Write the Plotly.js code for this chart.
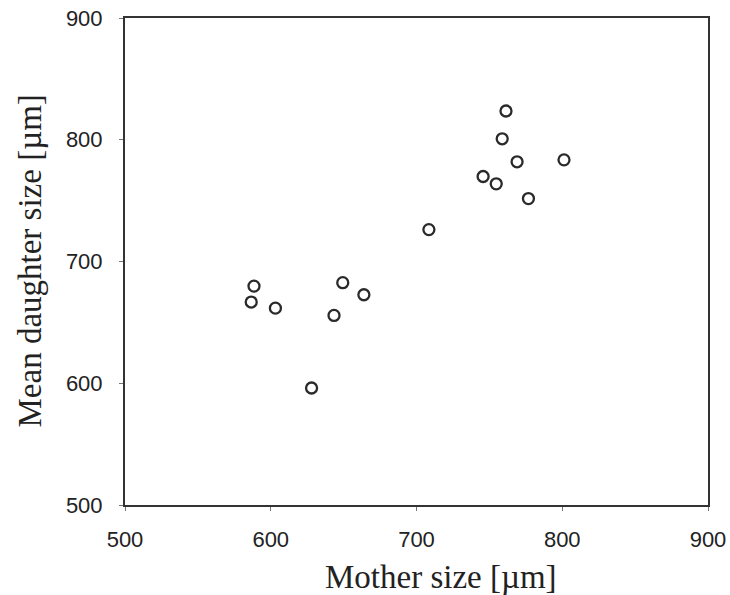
<!DOCTYPE html>
<html>
<head>
<meta charset="utf-8">
<script src="https://cdn.plot.ly/plotly-3.0.1.min.js"></script>
<style>html,body{margin:0;padding:0;background:#fff;}</style>
</head>
<body>
<div id="chart" style="width:730px;height:595px;"></div>
<script>
const motherSize = [588.5, 586.6, 603.2, 628.0, 643.4, 649.4, 663.9, 708.5, 745.7, 754.7, 758.8, 761.4, 769.0, 776.8, 801.2];
const daughterSize = [679.8, 666.7, 661.7, 596.1, 655.7, 682.6, 672.7, 726.2, 769.8, 763.8, 800.8, 823.6, 781.9, 751.7, 783.5];
const tickVals = [500, 600, 700, 800, 900];
const xTitle = 'Mother size [µm]';
const yTitle = 'Mean daughter size [µm]';

const trace = {
  x: motherSize, y: daughterSize, mode: 'markers', type: 'scatter',
  marker: {symbol: 'circle-open', size: 11, color: '#2a2a2a', line: {width: 2.3, color: '#2a2a2a'}},
  hoverinfo: 'none'
};

const titleFont = {family: 'Liberation Serif, Times New Roman, serif', size: 33, color: '#222'};

const axisCommon = {
  showgrid: false, zeroline: false, showline: true, mirror: true,
  linecolor: '#333', linewidth: 2, ticks: 'outside', ticklen: 4, tickcolor: '#777', tickwidth: 1,
  tickvals: tickVals, ticktext: tickVals.map(String),
  tickfont: {family: 'Liberation Sans, Arial, sans-serif', size: 22, color: '#222'}
};

const layout = {
  width: 730, height: 595,
  margin: {l: 125, r: 22, t: 18, b: 90},
  paper_bgcolor: '#fff', plot_bgcolor: '#fff',
  showlegend: false,
  xaxis: Object.assign({}, axisCommon, {range: [500, 900], ticklabelstandoff: 10}),
  yaxis: Object.assign({}, axisCommon, {range: [500, 900], ticklabelstandoff: 12}),
  annotations: [
    {text: xTitle, xref: 'paper', yref: 'paper', x: (441 - 125) / 583, y: -(577 - 505) / 487,
     xanchor: 'center', yanchor: 'middle', showarrow: false, font: titleFont},
    {text: yTitle, xref: 'paper', yref: 'paper', x: -(125 - 29) / 583, y: 0.5, textangle: -90,
     xanchor: 'center', yanchor: 'middle', showarrow: false, font: titleFont}
  ]
};

Plotly.newPlot('chart', [trace], layout, {displayModeBar: false, staticPlot: true});
</script>
</body>
</html>
